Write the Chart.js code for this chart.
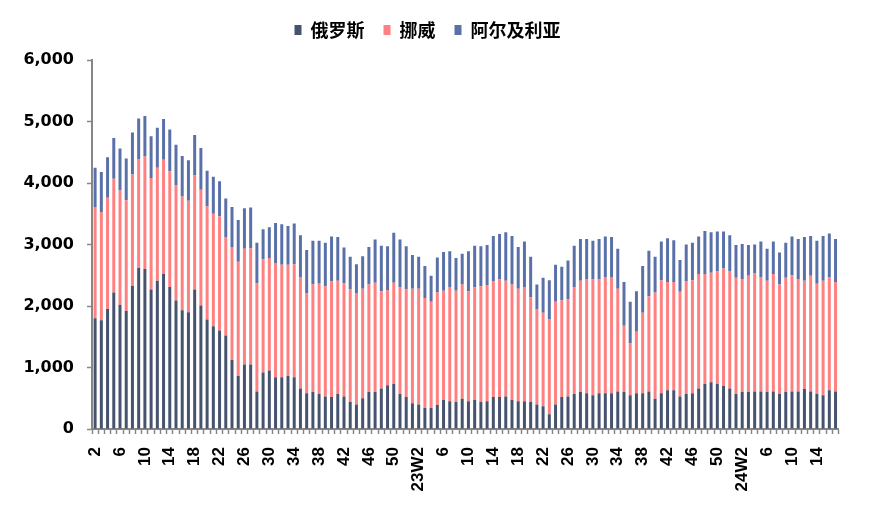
<!DOCTYPE html>
<html>
<head>
<meta charset="utf-8">
<script src="https://cdn.jsdelivr.net/npm/chart.js@4/dist/chart.umd.min.js"></script>
<style>
html,body{margin:0;padding:0;background:#fff;}
canvas{display:block;}
</style>
</head>
<body>
<canvas id="c" width="869" height="515"></canvas>
<script>
const categories = [
"2","3","4","5","6","7","8","9","10","11","12","13","14","15","16","17","18","19","20","21","22","23","24","25","26","27","28","29","30","31","32","33","34","35","36","37","38","39","40","41","42","43","44","45","46","47","48","49","50","51","52",
"23W1","23W2","3","4","5","6","7","8","9","10","11","12","13","14","15","16","17","18","19","20","21","22","23","24","25","26","27","28","29","30","31","32","33","34","35","36","37","38","39","40","41","42","43","44","45","46","47","48","49","50","51","52",
"24W1","24W2","3","4","5","6","7","8","9","10","11","12","13","14","15","16","17"
];
const seriesNames = ["俄罗斯","挪威","阿尔及利亚"];
const russia = [
1800,1770,1950,2220,2020,1920,2330,2620,2600,2270,2410,2520,2310,2090,1930,1900,2270,2010,1780,1670,
1600,1520,1120,860,1050,1050,610,920,950,840,840,860,840,660,580,600,570,530,520,570,
530,440,400,500,600,600,660,710,730,570,520,420,400,340,340,390,470,450,440,490,
450,470,440,450,520,520,530,470,450,450,440,400,370,240,400,520,530,570,600,580,
550,580,580,580,610,600,550,580,580,610,490,580,630,630,530,570,580,660,730,760,
730,700,660,570,600,600,610,610,600,610,570,600,610,610,650,610,570,550,630,610
];
const norway = [
1810,1760,1810,1850,1860,1800,1810,1770,1830,1810,1840,1860,1880,1870,1850,1810,1850,1880,1840,1830,
1860,1600,1840,1860,1880,1890,1760,1840,1830,1860,1830,1810,1840,1810,1630,1750,1790,1790,1880,1840,
1840,1830,1810,1780,1750,1780,1580,1550,1650,1730,1750,1860,1880,1790,1730,1830,1780,1860,1810,1860,
1790,1830,1880,1890,1880,1910,1880,1880,1830,1860,1700,1550,1520,1550,1670,1570,1580,1730,1810,1860,
1880,1860,1890,1890,1670,1080,840,1000,1310,1550,1730,1840,1760,1760,1700,1830,1840,1860,1790,1780,
1830,1910,1910,1890,1840,1890,1920,1860,1810,1910,1780,1860,1890,1830,1760,1880,1790,1860,1840,1780
];
const algeria = [
640,650,660,660,680,680,680,660,660,680,650,660,680,660,660,660,660,680,580,600,
570,630,650,680,660,660,660,490,500,650,660,630,660,680,700,710,700,710,730,710,
580,530,470,530,610,700,740,710,810,780,700,550,520,520,420,570,630,580,530,500,
650,680,650,650,740,740,790,790,680,740,660,400,570,630,600,550,630,680,680,650,
630,650,660,650,650,710,680,660,760,740,580,630,710,680,520,600,610,610,700,660,
650,600,580,530,570,500,470,580,520,530,520,570,630,650,710,650,700,730,710,700
];
const yTicks = [0,1000,2000,3000,4000,5000,6000];
const colors = ["#46536F","#FF8080","#5A70A8"];

const axisColor = "#878787";
const legendHeightPlugin = {
  id: "legendHeight",
  beforeInit(chart) {
    const lg = chart.legend;
    if (!lg) return;
    const origFit = lg.fit.bind(lg);
    lg.fit = function() { origFit(); this.height += 11; };
  }
};
new Chart(document.getElementById("c"), {
  type: "bar",
  plugins: [legendHeightPlugin],
  data: {
    labels: categories,
    datasets: [
      {label: seriesNames[0], data: russia, backgroundColor: colors[0]},
      {label: seriesNames[1], data: norway, backgroundColor: colors[1]},
      {label: seriesNames[2], data: algeria, backgroundColor: colors[2]}
    ]
  },
  options: {
    responsive: false,
    animation: false,
    devicePixelRatio: 1,
    barPercentage: 0.48,
    categoryPercentage: 1.0,
    layout: {padding: {left: 0, right: 14, top: 2, bottom: 0}},
    plugins: {
      tooltip: {enabled: false},
      legend: {
        position: "top",
        labels: {
          boxWidth: 7,
          boxHeight: 10,
          padding: 19,
          color: "#000",
          font: {family: "'Noto Sans CJK SC'", size: 18, weight: "bold"}
        }
      }
    },
    scales: {
      x: {
        stacked: true,
        grid: {display: true, drawOnChartArea: false, drawTicks: true, tickLength: 5, tickColor: axisColor, tickWidth: 1.5, offset: true},
        border: {display: true, color: axisColor, width: 2},
        ticks: {
          autoSkip: false,
          minRotation: 90,
          maxRotation: 90,
          padding: 13,
          color: "#000",
          font: {family: "'Liberation Sans'", size: 17, weight: "bold"},
          callback: function(v, i) { return i % 4 === 0 ? categories[i] : ""; }
        },
        afterFit: function(s) { s.height = 86; }
      },
      y: {
        stacked: true,
        min: 0,
        max: 6000,
        afterBuildTicks: function(s) { s.ticks = yTicks.map(v => ({value: v})); },
        grid: {display: true, drawOnChartArea: false, drawTicks: true, tickLength: 5, tickColor: axisColor, tickWidth: 1.5},
        border: {display: true, color: axisColor, width: 2},
        ticks: {
          padding: 13,
          color: "#000",
          font: {family: "'DejaVu Sans'", size: 16, weight: "bold"},
          callback: function(v) { return v.toLocaleString("en-US"); }
        },
        afterFit: function(s) { s.width = 92; }
      }
    }
  }
});
</script>
</body>
</html>
